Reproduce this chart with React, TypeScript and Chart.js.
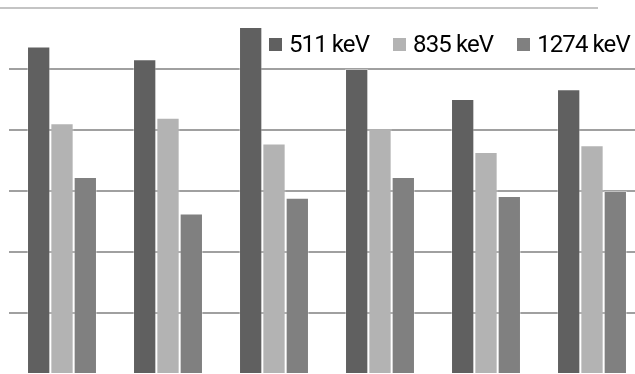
import React, { useEffect, useRef } from "react";
import { Chart, registerables } from "chart.js";

Chart.register(...registerables);

// Six measurement groups, three gamma-ray energies each
const categories = ["1", "2", "3", "4", "5", "6"];
const seriesLabels = ["511 keV", "835 keV", "1274 keV"];
const values511 = [5.37, 5.16, 5.69, 5.0, 4.51, 4.67];
const values835 = [4.11, 4.2, 3.78, 4.03, 3.64, 3.75];
const values1274 = [3.23, 2.63, 2.89, 3.23, 2.92, 3.0];
const seriesColors = ["#606060", "#b3b3b3", "#808080"];

// thin rule across the top of the figure
const topRule = {
  id: "topRule",
  beforeDraw(chart: any) {
    const ctx = chart.ctx;
    ctx.save();
    ctx.strokeStyle = "#c4c4c4";
    ctx.lineWidth = 2;
    ctx.beginPath();
    ctx.moveTo(0, 8);
    ctx.lineTo(598, 8);
    ctx.stroke();
    ctx.restore();
  },
};

export default function App() {
  const canvasRef = useRef<HTMLCanvasElement | null>(null);

  useEffect(() => {
    document.body.style.margin = "0";
    const seriesValues = [values511, values835, values1274];
    const chart = new Chart(canvasRef.current!, {
      type: "bar",
      data: {
        labels: categories,
        datasets: seriesLabels.map((label, i) => ({
          label,
          data: seriesValues[i],
          backgroundColor: seriesColors[i],
          borderColor: "rgba(255,255,255,0.35)",
          borderWidth: 1,
          barPercentage: 1,
          categoryPercentage: 0.66,
        })),
      },
      options: {
        animation: false,
        responsive: false,
        layout: { padding: { left: 9, right: 0, top: 8, bottom: 0 } },
        plugins: { legend: { display: false }, tooltip: { enabled: false } },
        scales: {
          x: { display: false },
          y: {
            min: 0,
            max: 6,
            ticks: { display: false, stepSize: 1 },
            border: { display: false },
            grid: {
              drawTicks: false,
              lineWidth: 2,
              color: (c: any) =>
                c.tick && (c.tick.value === 0 || c.tick.value === 6)
                  ? "rgba(0,0,0,0)"
                  : "#a0a0a0",
            },
          },
        },
      },
      plugins: [topRule],
    });
    return () => chart.destroy();
  }, []);

  return (
    <div
      style={{
        position: "fixed",
        left: 0,
        top: 0,
        width: 635,
        height: 374,
        overflow: "hidden",
        background: "#ffffff",
      }}
    >
      <canvas ref={canvasRef} width={645} height={374} style={{ display: "block" }} />
      <div
        style={{
          position: "absolute",
          left: 269,
          top: 29,
          display: "flex",
          alignItems: "center",
          gap: 24,
          fontFamily: "Roboto, sans-serif",
          fontSize: 24,
          letterSpacing: "-0.9px",
          color: "#000000",
          lineHeight: "30px",
          whiteSpace: "nowrap",
        }}
      >
        {seriesLabels.map((label, i) => (
          <div key={label} style={{ display: "flex", alignItems: "center", gap: 7 }}>
            <span style={{ width: 13, height: 13, background: seriesColors[i], display: "inline-block" }} />
            <span>{label}</span>
          </div>
        ))}
      </div>
    </div>
  );
}
